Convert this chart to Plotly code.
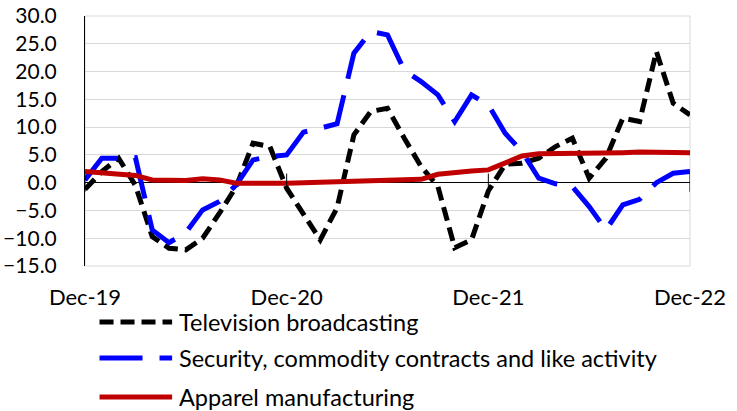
import plotly.graph_objects as go
import pandas as pd

months = list(pd.date_range("2019-12-01", periods=37, freq="MS").strftime("%b-%y"))
tick_labels = ["Dec-19", "Dec-20", "Dec-21", "Dec-22"]

series_names = ["Television broadcasting",
                "Security, commodity contracts and like activity",
                "Apparel manufacturing"]

television = [-1.2, 2.0, 4.4, -0.5, -9.7, -11.8, -12.1, -10.0, -5.5, -0.7,
              7.1, 6.5, -1.0, -5.5, -10.3, -4.5, 8.6, 12.8, 13.4, 8.0,
              2.9, -0.7, -11.7, -10.3, -1.5, 3.3, 3.5, 4.4, 6.5, 8.0,
              0.8, 4.4, 11.6, 11.0, 23.6, 14.3, 12.2]

security = [0.5, 4.4, 4.4, 4.5, -8.5, -10.8, -9.0, -4.9, -3.4, -0.4,
            4.1, 4.7, 5.0, 9.1, 9.8, 10.6, 23.3, 27.2, 26.6, 20.2,
            18.2, 15.8, 11.0, 15.8, 14.0, 8.9, 5.6, 0.8, -0.2, -0.7,
            -4.3, -8.5, -4.0, -3.0, 0.0, 1.7, 2.0]

apparel = [2.0, 1.7, 1.4, 1.3, 0.5, 0.4, 0.4, 0.7, 0.5, -0.1,
           -0.2, -0.1, -0.1, 0.0, 0.0, 0.0, 0.1, 0.2, 0.4, 0.5,
           0.6, 1.5, 1.9, 2.1, 2.3, 3.5, 4.8, 5.2, 5.2, 5.3,
           5.3, 5.3, 5.4, 5.5, 5.5, 5.5, 5.4]

y_ticks = [-15, -10, -5, 0, 5, 10, 15, 20, 25, 30]

colors = ["#000000", "#0000ff", "#c00000"]
dashes = ["14px,7px", "43px,17px", "solid"]
widths = [5, 5, 5]
values = [television, security, apparel]

FONT = "Lato, Calibri, Carlito, sans-serif"

fig = go.Figure()

for name, vals, c, d, w in zip(series_names, values, colors, dashes, widths):
    fig.add_trace(go.Scatter(x=months, y=vals, mode="lines", name=name,
                             line=dict(color=c, dash=d, width=w),
                             showlegend=False))

# tick marks crossing the zero line
fig.add_trace(go.Scatter(x=tick_labels, y=[0] * len(tick_labels), mode="markers",
                         marker=dict(symbol="line-ns", size=13,
                                     line=dict(color="#000000", width=1)),
                         showlegend=False, hoverinfo="skip"))

# manual legend
legend_y = [-0.224, -0.368, -0.524]
shapes = [dict(type="rect", xref="paper", yref="paper", x0=0, x1=1, y0=0, y1=1,
               line=dict(color="#d9d9d9", width=1), layer="below")]
annotations = []
for name, c, d, ly in zip(series_names, colors, dashes, legend_y):
    shapes.append(dict(type="line", xref="paper", yref="paper",
                       x0=0.024, x1=0.144, y0=ly, y1=ly,
                       line=dict(color=c, width=5, dash=d)))
    annotations.append(dict(xref="paper", yref="paper", x=0.152, y=ly,
                            text=name, showarrow=False, xanchor="left",
                            yanchor="middle",
                            font=dict(family=FONT, size=23.5, color="#000000")))

fig.update_layout(
    width=737, height=411,
    margin=dict(l=85, r=47, t=16, b=145, autoexpand=False),
    plot_bgcolor="white", paper_bgcolor="white",
    font=dict(family=FONT, size=22, color="#000000"),
    shapes=shapes, annotations=annotations,
    showlegend=False,
    xaxis=dict(type="category", categoryorder="array", categoryarray=months,
               range=[0, 36], tickmode="array", tickvals=tick_labels,
               ticktext=tick_labels, showgrid=False, zeroline=False,
               showline=False, ticks="", ticklabelstandoff=16,
               automargin=False, tickfont=dict(size=22)),
    yaxis=dict(range=[-15, 30], tickmode="array", tickvals=y_ticks,
               tickformat=".1f", showgrid=True, gridcolor="#d9d9d9",
               gridwidth=1, zeroline=True, zerolinecolor="#000000",
               zerolinewidth=1, showline=True, linecolor="#000000",
               linewidth=1, ticks="", ticklabelstandoff=23,
               ticklabeloverflow="allow",
               automargin=False, tickfont=dict(size=21)),
)

# remove the page's default body margin so the figure fills the window exactly
fig.write_html("out.html",
               config={"displayModeBar": False},
               post_script="document.body.style.margin='0';document.body.style.overflow='hidden';")
